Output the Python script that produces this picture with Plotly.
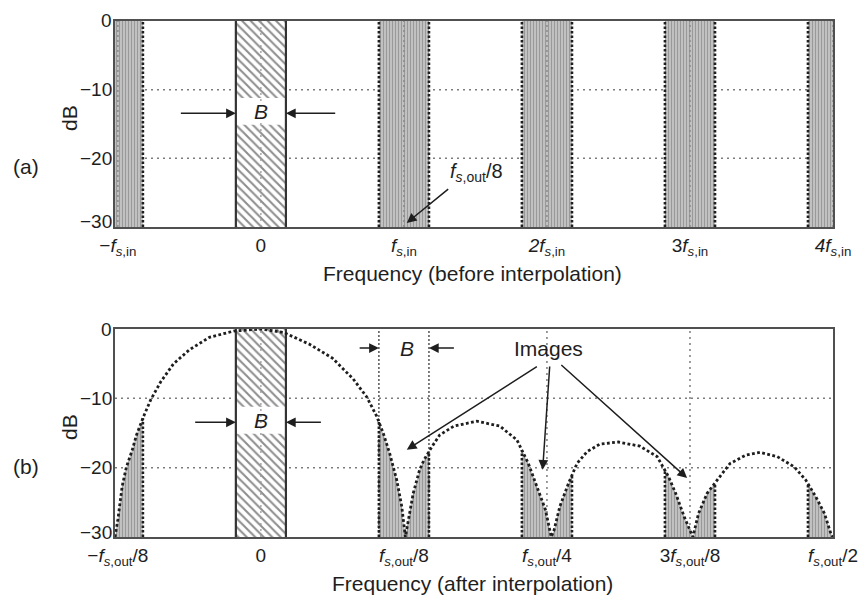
import numpy as np
import plotly.graph_objects as go

# ---------------- axis ticks (frequency in units of f_s,in = f_s,out/8) ----------------
freq_ticks = [-1, 0, 1, 2, 3, 4]
FS_IN = "<i>f</i><sub><i>s</i>,in</sub>"
FS_OUT = "<i>f</i><sub><i>s</i>,out</sub>"
labels_before = ["−" + FS_IN, "0", FS_IN, "<i>2</i>" + FS_IN, "3" + FS_IN, "<i>4</i>" + FS_IN]
labels_after = ["−" + FS_OUT + "/8", "0", FS_OUT + "/8", FS_OUT + "/4",
                "3" + FS_OUT + "/8", FS_OUT + "/2"]
db_ticks = [0, -10, -20, -30]
db_labels = ["0", "−10", "−20", "−30"]

# ---------------- spectral content ----------------
signal_center = 0.0
image_centers = [-1, 1, 2, 3, 4]
bandwidth = 0.35                 # B, in units of f_s,in
label_gap = [-11.2, -15.1]       # dB span left clear for the "B" label

# interpolation filter magnitude response (dB), clipped at the -30 dB floor
filt_freq = [-1.02, -1.00, -0.97, -0.94, -0.90, -0.87, -0.82, -0.77, -0.70, -0.61,
             -0.50, -0.36, -0.19, 0.00, 0.16, 0.34, 0.50, 0.645, 0.74, 0.81,
             0.855, 0.90, 0.95, 0.985, 1.01,
             1.03, 1.065, 1.11, 1.14, 1.195, 1.25, 1.35, 1.51, 1.67, 1.79,
             1.87, 1.93, 1.99, 2.03,
             2.05, 2.09, 2.15, 2.21, 2.28, 2.37, 2.50, 2.65, 2.77, 2.85,
             2.90, 2.96, 3.02,
             3.06, 3.12, 3.19, 3.28, 3.39, 3.49, 3.61, 3.73, 3.81, 3.88,
             3.94, 3.985, 4.00]
filt_db = [-30.0, -27.5, -22.7, -19.9, -17.5, -15.3, -12.6, -10.2, -7.6, -5.0,
           -3.0, -1.2, -0.3, 0.0, -0.5, -2.2, -4.2, -7.2, -9.8, -12.6,
           -15.0, -17.9, -21.8, -25.6, -30.0,
           -27.5, -23.7, -20.3, -18.9, -17.0, -15.3, -14.0, -13.3, -14.0, -16.0,
           -19.4, -22.7, -26.1, -30.0,
           -29.0, -25.6, -22.3, -19.4, -17.7, -16.6, -16.3, -16.9, -18.4, -21.3,
           -23.7, -27.1, -30.0,
           -26.6, -23.7, -21.8, -19.4, -18.2, -17.8, -18.4, -19.9, -21.8, -24.2,
           -26.6, -29.5, -30.0]

x_range = [-1.02, 4.0]
db_range = [-30, 0]

# ---------------- page geometry ----------------
W, H = 859, 599
FONT = "Liberation Sans, Arial, sans-serif"
INK = "#1e1e1e"


def px(x):
    return x / W


def py(y):
    return 1 - y / H


X_DOM = [px(115), px(833)]
Y_DOM_A = [py(227), py(21)]
Y_DOM_B = [py(537), py(329)]

fig = go.Figure()

IMAGE_PATTERN = dict(shape="|", size=3, solidity=0.45, fgcolor="#6a6a6a", bgcolor="#c8c8c8")
HATCH_PATTERN = dict(shape="\\", size=6, solidity=0.35, fgcolor="#1e1e1e", bgcolor="white")
GRID = dict(color="#7c7c7c", width=1.5, dash="2px,4px")
EDGE = dict(color=INK, width=2.6, dash="2.5px,2px")


def line(xs, ys, xa, ya, style):
    fig.add_trace(go.Scatter(x=xs, y=ys, xaxis=xa, yaxis=ya, mode="lines",
                             line=style, hoverinfo="skip", showlegend=False))


def patch(xs, ys, xa, ya, pattern=None, color=None):
    kw = dict(fillpattern=pattern) if pattern else dict(fillcolor=color)
    fig.add_trace(go.Scatter(x=xs, y=ys, xaxis=xa, yaxis=ya, mode="lines", fill="toself",
                             line=dict(width=0), hoverinfo="skip", showlegend=False, **kw))


def signal_band(xa, ya):
    lo, hi = signal_center - bandwidth / 2, signal_center + bandwidth / 2
    patch([lo, hi, hi, lo, lo], [db_range[0]] * 2 + [db_range[1]] * 2 + [db_range[0]],
          xa, ya, pattern=HATCH_PATTERN)
    patch([lo, hi, hi, lo, lo], [label_gap[0]] * 2 + [label_gap[1]] * 2 + [label_gap[0]],
          xa, ya, color="white")
    line([signal_center] * 2, db_range, xa, ya, dict(color="#9a9a9a", width=1.3, dash="2px,4px"))
    for e in (lo, hi):
        line([e, e], db_range, xa, ya, dict(color="#333333", width=2.2))


# ======================= (a) before interpolation =======================
for d in db_ticks[1:-1]:
    line(x_range, [d, d], "x", "y", GRID)

for c in image_centers:
    lo, hi = c - bandwidth / 2, c + bandwidth / 2
    patch([lo, hi, hi, lo, lo], [db_range[0]] * 2 + [db_range[1]] * 2 + [db_range[0]],
          "x", "y", pattern=IMAGE_PATTERN)
    line([c, c], db_range, "x", "y", dict(color="#8a8a8a", width=1.5, dash="2px,3px"))
    for e in (lo, hi):
        line([e, e], db_range, "x", "y", EDGE)

signal_band("x", "y")

# ======================= (b) after interpolation =======================
for d in db_ticks[1:-1]:
    line(x_range, [d, d], "x2", "y2", GRID)
for c in freq_ticks[2:4]:
    line([c + 1, c + 1], db_range, "x2", "y2", GRID)

signal_band("x2", "y2")

ff = np.array(filt_freq)
fd = np.array(filt_db)
for c in image_centers:
    lo = max(c - bandwidth / 2, x_range[0])
    hi = min(c + bandwidth / 2, x_range[1])
    inner = (ff > lo) & (ff < hi)
    xs = np.concatenate([[lo], ff[inner], [hi]])
    ys = np.concatenate([[np.interp(lo, ff, fd)], fd[inner], [np.interp(hi, ff, fd)]])
    patch(list(xs) + [hi, lo, lo], list(ys) + [db_range[0], db_range[0], ys[0]],
          "x2", "y2", pattern=IMAGE_PATTERN)
    if c == 1:
        # bandwidth marker around the first image
        for e in (c - bandwidth / 2, c + bandwidth / 2):
            line([e, e], db_range, "x2", "y2", dict(color="#555555", width=1.5, dash="2px,2px"))
    for e, v in ((lo, ys[0]), (hi, ys[-1])):
        if x_range[0] < e < x_range[1]:
            line([e, e], [db_range[0], v], "x2", "y2", EDGE)

line(filt_freq, filt_db, "x2", "y2", dict(color=INK, width=2.8, dash="2.8px,2.4px"))

# ---------------- axes ----------------
common_x = dict(range=x_range, domain=X_DOM, tickmode="array", tickvals=freq_ticks,
                showgrid=False, zeroline=False, showline=True, mirror=True,
                linecolor="#505050", linewidth=2, ticks="", fixedrange=True,
                automargin=False, ticklabelstandoff=0,
                tickfont=dict(family=FONT, size=19, color=INK))
# dB labels are placed as annotations so the bottom one can sit clear of the x labels
common_y = dict(range=db_range, tickmode="array", tickvals=db_ticks,
                showticklabels=False,
                showgrid=False, zeroline=False, showline=True, mirror=True,
                linecolor="#505050", linewidth=2, ticks="", fixedrange=True,
                automargin=False)

fig.update_layout(
    width=W, height=H, margin=dict(l=0, r=0, t=0, b=0, autoexpand=False),
    paper_bgcolor="white", plot_bgcolor="white", showlegend=False,
    xaxis=dict(common_x, anchor="y", ticktext=labels_before),
    yaxis=dict(common_y, anchor="x", domain=Y_DOM_A),
    xaxis2=dict(common_x, anchor="y2", ticktext=labels_after),
    yaxis2=dict(common_y, anchor="x2", domain=Y_DOM_B),
    font=dict(family=FONT, color=INK),
)

# ---------------- annotations ----------------
ann = []


def text(x, y, s, size=21, ref=("paper", "paper"), angle=0):
    ann.append(dict(x=x, y=y, xref=ref[0], yref=ref[1], text=s, showarrow=False,
                    xanchor="center", yanchor="middle", textangle=angle,
                    font=dict(family=FONT, size=size, color=INK)))


def arrow(x0, y0, x1, y1, xa, ya):
    ann.append(dict(x=x1, y=y1, ax=x0, ay=y0, xref=xa, yref=ya, axref=xa, ayref=ya,
                    text="", showarrow=True, arrowhead=2, arrowsize=1.3, arrowwidth=1.5,
                    arrowcolor=INK, standoff=0, startstandoff=0))


# dB tick labels
for ya in ("y", "y2"):
    for v, s in zip(db_ticks, db_labels):
        ann.append(dict(x=px(114), y=v, xref="paper", yref=ya, text=s, showarrow=False,
                        xanchor="right", yanchor="middle",
                        yshift=5 if v == db_range[0] else 0,
                        font=dict(family=FONT, size=19, color=INK)))

# panel labels and axis titles
text(px(26), py(166), "(a)")
text(px(26), py(466), "(b)")
text(px(69), py(118), "dB", angle=-90)
text(px(69), py(427), "dB", angle=-90)
text(px(473), py(274), "Frequency (before interpolation)")
text(px(473), py(583), "Frequency (after interpolation)")

gap_mid = sum(label_gap) / 2
for xa, ya, tail in (("x", "y", 0.57), ("x2", "y2", 0.47)):
    text(signal_center, gap_mid, "<i>B</i>", ref=(xa, ya))
    arrow(signal_center - tail, gap_mid - 0.3, signal_center - bandwidth / 2, gap_mid - 0.3, xa, ya)
    arrow(signal_center + tail - 0.04, gap_mid - 0.3, signal_center + bandwidth / 2, gap_mid - 0.3, xa, ya)

# f_s,out/8 callout in (a)
text(1.51, -22.0, FS_OUT + "/8", size=20, ref=("x", "y"))
arrow(1.32, -24.3, 1.02, -29.4, "x", "y")

# bandwidth marker around the first image in (b)
text(1.02, -2.75, "<i>B</i>", ref=("x2", "y2"))
arrow(0.68, -2.75, 1 - bandwidth / 2, -2.75, "x2", "y2")
arrow(1.36, -2.75, 1 + bandwidth / 2, -2.75, "x2", "y2")

# "Images" callout in (b)
text(2.01, -2.75, "Images", ref=("x2", "y2"))
arrow(1.94, -5.3, 1.02, -17.4, "x2", "y2")
arrow(2.02, -5.2, 1.97, -20.3, "x2", "y2")
arrow(2.09, -5.0, 2.98, -21.5, "x2", "y2")

fig.update_layout(annotations=ann)
fig.write_html("out.html")
